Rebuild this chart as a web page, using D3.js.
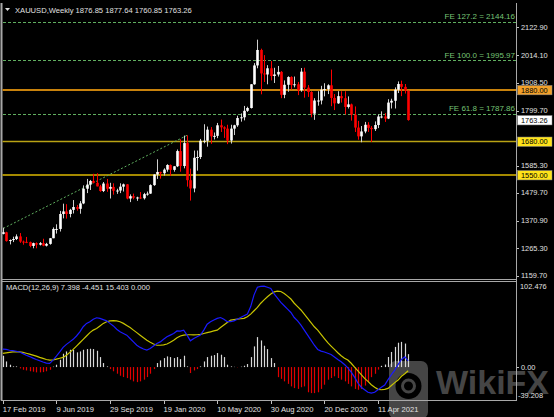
<!DOCTYPE html>
<html>
<head>
<meta charset="utf-8">
<script src="https://cdn.jsdelivr.net/npm/d3@7"></script>
<style>
body{margin:0;background:#000;overflow:hidden;}
svg{display:block;}
text{font-family:"Liberation Sans",Arial,sans-serif;}
</style>
</head>
<body>
<div class="chart"></div>
<script>
// weekly XAUUSD bars, 17 Feb 2019 .. 13 Jun 2021
var opens = [1322,1328,1294,1298,1302,1312,1292,1291,1290,1275,1286,1280,1286,1276,1283,1305,1341,1341,1399,1409,1399,1415,1426,1419,1440,1497,1513,1527,1520,1506,1488,1517,1497,1504,1489,1490,1505,1514,1459,1468,1462,1463,1460,1476,1478,1511,1552,1562,1557,1571,1589,1570,1584,1643,1585,1674,1530,1498,1617,1620,1683,1683,1726,1700,1702,1743,1735,1730,1684,1730,1743,1771,1774,1799,1810,1902,1975,2035,1944,1940,1964,1934,1940,1950,1861,1900,1930,1899,1902,1879,1951,1889,1872,1788,1839,1839,1881,1883,1898,1849,1828,1856,1848,1814,1824,1784,1734,1700,1719,1745,1733,1728,1744,1777,1777,1769,1831,1838,1881,1903,1892,1876.85];
var highs = [1346,1330,1300,1311,1320,1325,1296,1310,1292,1288,1289,1290,1303,1287,1306,1347,1359,1411,1439,1437,1419,1453,1434,1449,1510,1535,1531,1555,1557,1512,1523,1535,1520,1518,1497,1518,1517,1515,1475,1478,1466,1484,1481,1486,1514,1553,1611,1563,1576,1592,1591,1584,1649,1689,1703,1704,1575,1645,1645,1690,1747,1738,1736,1715,1752,1765,1739,1745,1745,1745,1780,1789,1818,1815,1903,1984,2075,2040,2015,1976,1992,1966,1973,1953,1917,1933,1933,1932,1911,1965,1966,1899,1875,1848,1875,1896,1906,1902,1959,1864,1875,1875,1875,1855,1827,1816,1760,1740,1756,1755,1740,1758,1785,1797,1790,1844,1846,1890,1913,1916,1903,1877.64];
var lows = [1320,1292,1281,1290,1298,1287,1280,1286,1270,1266,1266,1277,1274,1273,1280,1305,1323,1331,1382,1381,1386,1401,1412,1400,1437,1480,1492,1518,1506,1485,1484,1485,1459,1474,1477,1480,1486,1456,1445,1456,1450,1457,1455,1470,1477,1508,1535,1536,1548,1563,1547,1563,1581,1563,1576,1505,1451,1483,1567,1612,1673,1660,1671,1688,1693,1717,1694,1670,1672,1705,1737,1757,1762,1795,1808,1900,1964,1863,1911,1902,1917,1907,1932,1848,1848,1873,1882,1890,1860,1873,1850,1853,1774,1764,1819,1824,1855,1864,1817,1802,1826,1831,1785,1808,1761,1717,1687,1677,1712,1717,1678,1721,1732,1770,1756,1767,1808,1808,1868,1856,1866,1760.85];
var closes = [1328,1294,1298,1302,1312,1292,1291,1290,1275,1286,1280,1286,1276,1283,1305,1341,1341,1399,1409,1399,1415,1426,1419,1440,1497,1513,1527,1520,1506,1488,1517,1497,1504,1489,1490,1505,1514,1459,1468,1462,1463,1460,1476,1478,1511,1552,1562,1557,1571,1589,1570,1584,1643,1585,1674,1530,1498,1617,1620,1683,1683,1726,1700,1702,1743,1735,1730,1684,1730,1743,1771,1774,1799,1810,1902,1975,2035,1944,1940,1964,1934,1940,1950,1861,1900,1930,1899,1902,1879,1951,1889,1872,1788,1839,1839,1881,1883,1898,1849,1828,1856,1848,1814,1824,1784,1734,1700,1719,1745,1733,1728,1744,1777,1777,1769,1831,1838,1881,1903,1892,1877,1763.26];

// MACD(12,26,9)
var macdHist = [13.5,6.7,2.8,0.8,0.8,-1.6,-3.2,-4,-5,-5.5,-6.3,-6.3,-6,-5,-3.2,0.5,2.8,8.7,15.9,18.6,20.6,20.6,17.5,18.6,20.6,21.4,21.8,21.4,19.4,11.9,4.8,0.8,-2.4,-5,-7.9,-10.3,-11.9,-13.1,-15,-17,-17.9,-17,-15,-11.9,-7.9,-2.4,4.8,7.9,10.7,12.7,11.9,10.7,11.9,9.5,13.5,0.8,-7.1,-4,-2.4,0.8,6.7,11.9,13.5,14.3,16.7,14.7,11.9,2.8,0.8,0.3,-0.3,0.5,1.6,3.6,11.9,24.6,35.7,31.7,25.4,21.4,10.7,4.8,-12,-14,-17,-20,-23,-25,-26,-24,-23,-30,-31,-31,-30,-26,-21,-15,-13,-11,-13,-15,-17,-20,-23,-26,-27,-26,-22,-18,-12,-8,-3,1.5,3,12,18,24,29,30,28,15.403];
var macdMain = [21.4,21,20,19.5,18.8,18,16,14,12.5,10.7,9,7.5,6,4.8,4.4,8.3,13,18,23.4,27,30,33,37,42,48,52,54,57,58.7,58,56.5,55,52,49,45,42,40,38,34,30,26,23.4,21.5,20.2,22,25,28,30,33,36,38,40,43,42.8,44,38,31.3,34,36,38,44,51,54,56,58,59,57,54,54,55,57,59,61,63,72,86,95,96,96.4,95,93.6,87,82,77,73,69,65,59,55,50,44,38,32,26,21,19,18,16.5,15,12,9,6.3,3,-1,-6,-12,-19,-24,-27,-30,-31,-30,-27,-24,-21.4,-15,-9,-3.6,3,9,12.3,7.398];
var macdSignal = [16.3,17,17.5,18,18,18,17.5,16.5,15.5,14.3,13,11.5,10.3,9,8.3,8.5,9.5,10.5,11.5,14,17.5,21,25,29,33,37,41,44,46,49,52,54,55,55.2,55,54,52,49.5,47,44,41,38,35,32,29.5,27.5,26,26,26.5,27.4,29.5,32,35,37,38,38.5,38.5,38.3,38.5,39,40,41,42,43,44,47,50,53,56,56.5,57,57.5,58,60,63,67,71,76,80,83.7,87,89.5,90.5,90,87.5,84.5,81,76,72,68,63,58,53,48,44,39,34,29,25,21,17,13.5,10.5,8.3,4.5,0,-4.5,-9,-13.5,-17,-21,-24,-26.5,-27,-26.5,-25.4,-22,-18.5,-15.5,-11,-8,-4.451];

var priceTicks = [2122.90,2014.10,1908.50,1799.70,1585.30,1479.70,1370.90,1265.30,1159.70];
var dateTickBars = [0,16,32,48,64,80,96,112];
var dateLabels = ['17 Feb 2019','9 Jun 2019','29 Sep 2019','19 Jan 2020','10 May 2020','30 Aug 2020','20 Dec 2020','11 Apr 2021'];

var feLevels = [127.2,100.0,61.8];
var fePrices = [2144.16,1995.97,1787.86];
var trendBars = [0,55];
var trendPrices = [1343,1704];

var W = 554, H = 417;
var plotRight = 516;

var svg = d3.select('.chart').append('svg')
    .attr('width', W)
    .attr('height', H)
    .style('background', '#000');

var x = d3.scaleLinear()
    .domain([0, opens.length - 1])
    .range([2.8, 2.8 + 3.35 * (opens.length - 1)]);

var y = d3.scaleLinear()
    .domain([1159.7, 2122.9])
    .range([275.7, 27.3]);

var ym = d3.scaleLinear()
    .domain([-39.208, 102.476])
    .range([400, 281]);

// watermark sits under everything else
var wm = svg.append('g').attr('opacity', 0.5);
wm.append('rect')
    .attr('x', 389).attr('y', 361).attr('width', 39).attr('height', 58).attr('rx', 7)
    .attr('fill', '#8a8a8a');
wm.append('circle').attr('cx', 408.5).attr('cy', 386).attr('r', 13)
    .attr('fill', '#000');
wm.append('circle').attr('cx', 408.5).attr('cy', 386).attr('r', 6)
    .attr('fill', 'none').attr('stroke', '#8a8a8a').attr('stroke-width', 3);
wm.append('text')
    .attr('x', 436).attr('y', 394)
    .attr('font-size', 34)
    .attr('font-weight', 'bold')
    .attr('fill', '#8a8a8a')
    .text('WikiFX');

// frames
var frame = svg.append('g').attr('stroke', '#a8a8a8').attr('stroke-width', 1).attr('fill', 'none');
frame.append('line').attr('x1', 1.5).attr('x2', 1.5).attr('y1', 3).attr('y2', 400.5).attr('stroke-width', 2);
frame.append('line').attr('x1', plotRight + 0.5).attr('x2', plotRight + 0.5).attr('y1', 3).attr('y2', 400.5);
frame.append('line').attr('x1', 1).attr('x2', plotRight + 1).attr('y1', 279.5).attr('y2', 279.5);
frame.append('line').attr('x1', 1).attr('x2', plotRight + 1).attr('y1', 281.5).attr('y2', 281.5);
frame.append('line').attr('x1', 1).attr('x2', plotRight + 1).attr('y1', 400.5).attr('y2', 400.5);

// support / resistance lines
var hlines = [
    {p: 1880, c: '#c8820c', w: 2},
    {p: 1680, c: '#b9a214', w: 1.6},
    {p: 1550, c: '#dcb800', w: 1.6}
];
svg.selectAll('.hline')
    .data(hlines)
    .enter()
    .append('line')
    .attr('x1', 2.5).attr('x2', plotRight)
    .attr('y1', function(d) { return y(d.p); })
    .attr('y2', function(d) { return y(d.p); })
    .attr('stroke', function(d) { return d.c; })
    .attr('stroke-width', function(d) { return d.w; });

// fibo expansion levels
var green = '#5fae5f';
svg.selectAll('.fe')
    .data(fePrices)
    .enter()
    .append('line')
    .attr('x1', 3).attr('x2', plotRight)
    .attr('y1', function(d) { return Math.round(y(d)) + 0.5; })
    .attr('y2', function(d) { return Math.round(y(d)) + 0.5; })
    .attr('stroke', green)
    .attr('stroke-dasharray', '3,2');

svg.selectAll('.fetext')
    .data(fePrices)
    .enter()
    .append('text')
    .attr('x', 515)
    .attr('y', function(d) { return y(d) - 2.5; })
    .attr('text-anchor', 'end')
    .attr('font-size', 8)
    .attr('fill', '#76c476')
    .text(function(d, i) { return 'FE ' + feLevels[i].toFixed(1) + ' = ' + d.toFixed(2); });

svg.append('line')
    .attr('x1', x(trendBars[0]) + 0.5).attr('y1', y(trendPrices[0]))
    .attr('x2', x(trendBars[1])).attr('y2', y(trendPrices[1]))
    .attr('stroke', green)
    .attr('stroke-dasharray', '2,2');

// candles
var idx = d3.range(opens.length);
var bull = function(i) { return closes[i] >= opens[i]; };

svg.append('g').selectAll('line')
    .data(idx)
    .enter()
    .append('line')
    .attr('x1', function(i) { return Math.round(x(i)) + 0.5; })
    .attr('x2', function(i) { return Math.round(x(i)) + 0.5; })
    .attr('y1', function(i) { return y(highs[i]); })
    .attr('y2', function(i) { return y(lows[i]); })
    .attr('stroke', function(i) { return bull(i) ? '#d0d0d0' : '#ff0000'; })
    .attr('stroke-width', 1);

svg.append('g').selectAll('rect')
    .data(idx)
    .enter()
    .append('rect')
    .attr('x', function(i) { return Math.round(x(i)) - 0.8; })
    .attr('width', 2.6)
    .attr('y', function(i) { return y(Math.max(opens[i], closes[i])); })
    .attr('height', function(i) { return Math.max(1, Math.abs(y(opens[i]) - y(closes[i]))); })
    .attr('fill', function(i) { return bull(i) ? '#ffffff' : '#ff0000'; });

// MACD window
svg.append('g').selectAll('line')
    .data(macdHist)
    .enter()
    .append('line')
    .attr('x1', function(d, i) { return Math.round(x(i)) + 0.5; })
    .attr('x2', function(d, i) { return Math.round(x(i)) + 0.5; })
    .attr('y1', ym(0))
    .attr('y2', function(d) { return ym(d); })
    .attr('stroke', function(d) { return d >= 0 ? '#d8d8d8' : '#e00000'; })
    .attr('stroke-width', 1.2);

var mline = d3.line()
    .x(function(d, i) { return x(i); })
    .y(function(d) { return ym(d); });

svg.append('path')
    .datum(macdSignal)
    .attr('fill', 'none')
    .attr('stroke', '#c8c400')
    .attr('stroke-width', 1.2)
    .attr('d', mline);

svg.append('path')
    .datum(macdMain)
    .attr('fill', 'none')
    .attr('stroke', '#1a1aff')
    .attr('stroke-width', 1.2)
    .attr('d', mline);

// price axis
var axisText = '#e0e0e0';
var fs = 7.4;
var pt = svg.append('g');
pt.selectAll('line')
    .data(priceTicks)
    .enter()
    .append('line')
    .attr('x1', plotRight + 1).attr('x2', plotRight + 3)
    .attr('y1', function(d) { return Math.round(y(d)) + 0.5; })
    .attr('y2', function(d) { return Math.round(y(d)) + 0.5; })
    .attr('stroke', '#c0c0c0');
pt.selectAll('text')
    .data(priceTicks)
    .enter()
    .append('text')
    .attr('x', 521)
    .attr('y', function(d) { return y(d) + 2.2; })
    .attr('font-size', fs)
    .attr('fill', axisText)
    .text(function(d) { return d.toFixed(2); });

var tags = [
    {p: 1880, bg: '#f2a12a'},
    {p: 1763.26, bg: '#ffffff'},
    {p: 1680, bg: '#ffe31a'},
    {p: 1550, bg: '#ffe31a'}
];
var tg = svg.append('g').selectAll('g')
    .data(tags)
    .enter()
    .append('g');
tg.append('rect')
    .attr('x', 517.5)
    .attr('y', function(d) { return y(d.p) - 4.5; })
    .attr('width', 34.5)
    .attr('height', 9.4)
    .attr('fill', function(d) { return d.bg; })
    .attr('stroke', '#888')
    .attr('stroke-width', 0.5);
tg.append('text')
    .attr('x', 521)
    .attr('y', function(d) { return y(d.p) + 2.8; })
    .attr('font-size', fs)
    .attr('fill', '#000')
    .text(function(d) { return d.p.toFixed(2); });

// MACD axis labels
svg.append('text').attr('x', 520).attr('y', 289).attr('font-size', fs).attr('fill', axisText).text('102.476');
svg.append('text').attr('x', 521).attr('y', ym(0) + 2.8).attr('font-size', fs).attr('fill', axisText).text('0.00');
svg.append('text').attr('x', 518).attr('y', 398).attr('font-size', fs).attr('fill', axisText).text('-39.208');
svg.append('line').attr('x1', plotRight + 1).attr('x2', plotRight + 3).attr('y1', Math.round(ym(0)) + 0.5).attr('y2', Math.round(ym(0)) + 0.5).attr('stroke', '#c0c0c0');

// date axis
var dg = svg.append('g');
dg.selectAll('line')
    .data(dateTickBars)
    .enter()
    .append('line')
    .attr('x1', function(d) { return Math.round(x(d)) + 0.5; })
    .attr('x2', function(d) { return Math.round(x(d)) + 0.5; })
    .attr('y1', 401).attr('y2', 404)
    .attr('stroke', '#c0c0c0');
dg.selectAll('text')
    .data(dateTickBars)
    .enter()
    .append('text')
    .attr('x', function(d) { return x(d); })
    .attr('y', 412)
    .attr('font-size', 7.6)
    .attr('fill', axisText)
    .text(function(d, i) { return dateLabels[i]; });

// titles
svg.append('path')
    .attr('d', 'M5,8 L10,8 L7.5,11 Z')
    .attr('fill', '#e0e0e0');
svg.append('text').attr('x', 15).attr('y', 13).attr('font-size', 7.6).attr('fill', axisText)
    .text('XAUUSD,Weekly  1876.85 1877.64 1760.85 1763.26');
svg.append('text').attr('x', 6).attr('y', 290).attr('font-size', 7.6).attr('fill', axisText)
    .text('MACD(12,26,9) 7.398 -4.451 15.403 0.000');
</script>
</body>
</html>
